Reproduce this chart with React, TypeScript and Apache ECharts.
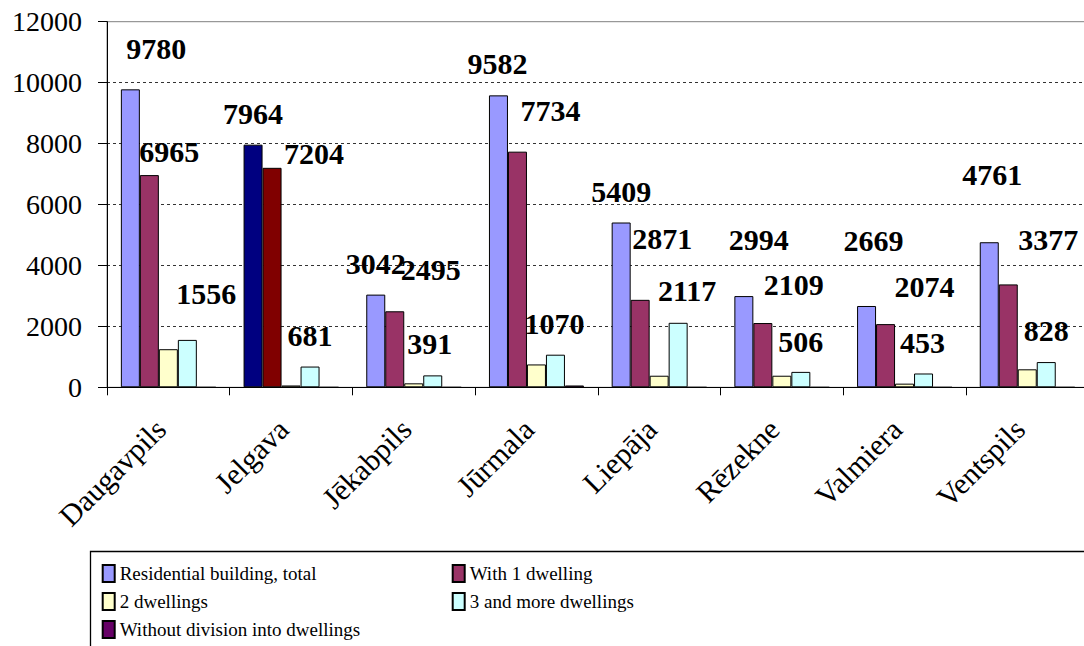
import React, { useEffect, useRef } from "react";
import * as echarts from "echarts";

const categories = ["Daugavpils", "Jelgava", "Jēkabpils", "Jūrmala", "Liepāja", "Rēzekne", "Valmiera", "Ventspils"];
const seriesNames = [
  "Residential building, total",
  "With 1 dwelling",
  "2 dwellings",
  "3 and more dwellings",
  "Without division into dwellings",
];
const totalBuildings = [9780, 7964, 3042, 9582, 5409, 2994, 2669, 4761];
const oneDwelling = [6965, 7204, 2495, 7734, 2871, 2109, 2074, 3377];
const twoDwellings = [1250, 60, 130, 750, 380, 380, 120, 590];
const threePlus = [1556, 681, 391, 1070, 2117, 506, 453, 828];
const noDivision = [0, 0, 0, 60, 0, 0, 0, 0];
const yTicks = [0, 2000, 4000, 6000, 8000, 10000, 12000];

// label placement tweaks (as in the original, labels were dragged around)
const totalLabelShift = [[26, -9], [0, 0], [0, 0], [-1, 0], [0, 0], [15, -25], [7, -34], [3, -36]];
const oneLabelShift = [[20, 8], [42, 17], [36, -10], [33, -10], [22, -30], [31, -7], [39, -6], [40, -13]];
const threeLabelShift = [[19, -15], [0, 0], [-3, 0], [-1, 0], [9, -1], [0, 1], [-1, 1], [0, 0]];

const colors = ["#9999FF", "#993366", "#FFFFCC", "#CCFFFF", "#660066"];
const jelgavaColors = ["#000080", "#800000"];
const FONT = "'Liberation Serif', 'Times New Roman', serif";

export default function App() {
  const ref = useRef<HTMLDivElement>(null);
  useEffect(() => {
    if (!ref.current) return;
    const chart = echarts.init(ref.current, null, { renderer: "svg" });
    const values = [totalBuildings, oneDwelling, twoDwellings, threePlus, noDivision];
    const shifts: (number[][] | null)[] = [totalLabelShift, oneLabelShift, null, threeLabelShift, null];
    const series = values.map((vals, si) => ({
      type: "bar",
      name: seriesNames[si],
      barGap: "0%",
      barCategoryGap: "22.6%",
      itemStyle: { color: colors[si], borderColor: "#000", borderWidth: 1 },
      label: {
        show: shifts[si] !== null,
        position: "top",
        distance: 16.5,
        fontFamily: FONT,
        fontWeight: "bold",
        fontSize: 30,
        lineHeight: 30,
        color: "#000",
      },
      data: vals.map((v, i) => {
        const item: any = { value: v };
        if (i === 1 && si < 2) item.itemStyle = { color: jelgavaColors[si] };
        const sh = shifts[si];
        if (sh) item.label = { offset: sh[i] };
        return item;
      }),
    }));
    const legendText = { fontFamily: FONT, fontSize: 19, lineHeight: 17, color: "#000" };
    const legendBase = {
      orient: "vertical",
      top: 564,
      height: 200,
      padding: 0,
      itemWidth: 12,
      itemHeight: 17,
      itemGap: 9,
      icon: "rect",
      textStyle: legendText,
    };
    chart.setOption({
      animation: false,
      backgroundColor: "#fff",
      textStyle: { fontFamily: FONT },
      grid: {
        left: 107,
        top: 21.7,
        width: 981.6,
        height: 365.6,
        show: true,
        borderColor: "#808080",
        borderWidth: 1,
        outerBoundsMode: "none",
        containLabel: false,
      },
      legend: [
        { ...legendBase, left: 101.7, data: [seriesNames[0], seriesNames[2], seriesNames[4]] },
        { ...legendBase, left: 451.7, data: [seriesNames[1], seriesNames[3]] },
      ],
      graphic: [
        {
          type: "rect",
          shape: { x: 90.5, y: 551.5, width: 1100, height: 200 },
          style: { fill: "none", stroke: "#000", lineWidth: 1.3 },
          silent: true,
        },
      ],
      xAxis: {
        type: "category",
        data: categories,
        axisLine: { lineStyle: { color: "#000", width: 1 } },
        axisTick: { show: true, length: 8, lineStyle: { color: "#000" } },
        axisLabel: {
          rotate: 45,
          margin: 29,
          interval: 0,
          padding: [0, 11, 0, 0],
          fontFamily: FONT,
          fontSize: 30,
          color: "#000",
        },
      },
      yAxis: {
        type: "value",
        min: yTicks[0],
        max: yTicks[yTicks.length - 1],
        interval: 2000,
        axisLine: { show: true, lineStyle: { color: "#000", width: 1 } },
        axisTick: { show: true, length: 9, lineStyle: { color: "#000" } },
        axisLabel: {
          margin: 25,
          fontFamily: FONT,
          fontSize: 28,
          color: "#000",
          formatter: (v: number) => String(v),
        },
        splitLine: {
          show: true,
          showMaxLine: false,
          lineStyle: { color: "#333", type: [3, 3], width: 1 },
        },
      },
      series,
    });
    return () => chart.dispose();
  }, []);
  return <div ref={ref} style={{ position: "absolute", left: 0, top: 0, width: 1084, height: 646 }} />;
}
